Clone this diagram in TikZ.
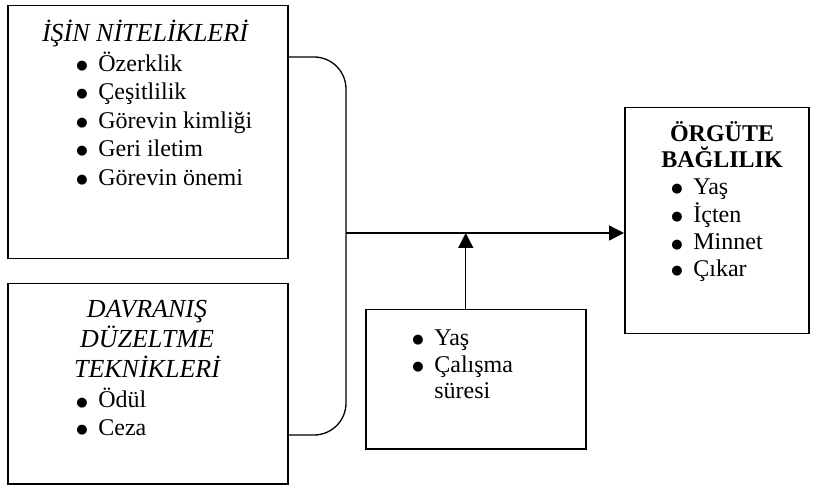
\documentclass[tikz,border=0pt]{standalone}
\usepackage{fontspec}
\setmainfont{Liberation Serif}
\newfontfamily\simge{DejaVu Sans}
\usetikzlibrary{positioning}
\usetikzlibrary{arrows.meta}

\begin{document}
\begin{tikzpicture}[x=0.5pt, y=-0.5pt,
  kutu/.style={draw, line width=0.75pt, anchor=north west, inner sep=0pt},
  satir/.style={font=\fontsize{12}{13.8}\selectfont, inner sep=0pt, anchor=base west,
    text height=8.5pt, text depth=2.5pt},
  baslik/.style={font=\fontsize{13}{14.5}\selectfont\itshape, inner sep=0pt, anchor=base,
    text height=9pt, text depth=2.5pt},
  baglac/.style={line width=0.65pt},
  ok/.style={line width=0.65pt, -{Triangle[length=7.5pt, width=7.5pt]}}]

\newcommand{\madde}{\makebox[11pt][l]{\raisebox{1pt}{\simge\fontsize{6.5}{7}\selectfont ●}}}  % madde imi

\useasboundingbox (0,0) rectangle (814,486);

% kutular
\node[kutu, minimum width=140pt, minimum height=126.5pt] (isin) at (7,5) {};
\node[kutu, minimum width=140pt, minimum height=100pt] (davranis) at (7,283) {};
\node[kutu, minimum width=110pt, minimum height=69.5pt] (orta) at (365,309) {};
\node[kutu, minimum width=92pt, minimum height=113pt] (orgut) at (624,107) {};

% İşin nitelikleri
\node[baslik] (isinbas) at (145,42) {İŞİN NİTELİKLERİ};
\node[satir] (i1) at (76,71.7) {\madde Özerklik};
\node[satir] (i2) at (76,100) {\madde Çeşitlilik};
\node[satir] (i3) at (76,128.5) {\madde Görevin kimliği};
\node[satir] (i4) at (76,157) {\madde Geri iletim};
\node[satir] (i5) at (76,185.5) {\madde Görevin önemi};

% Davranış düzeltme teknikleri
\node[baslik] (dbas1) at (147,318) {DAVRANIŞ};
\node[baslik] (dbas2) at (147,348) {DÜZELTME};
\node[baslik] (dbas3) at (147,378) {TEKNİKLERİ};
\node[satir] (d1) at (76,408) {\madde Ödül};
\node[satir] (d2) at (76,435) {\madde Ceza};

% Orta kutu
\node[satir] (o1) at (412,345) {\madde Yaş};
\node[satir] (o2) at (412,372) {\madde Çalışma};
\node[satir] (o3) at (412,398) {\hspace*{11pt}süresi};

% Örgüte bağlılık
\node[baslik, font=\fontsize{12}{13.8}\selectfont\bfseries, text height=8.5pt] (obas1) at (722,142) {ÖRGÜTE};
\node[baslik, font=\fontsize{12}{13.8}\selectfont\bfseries, text height=8.5pt] (obas2) at (722,168) {BAĞLILIK};
\node[satir] (b1) at (671,195) {\madde Yaş};
\node[satir] (b2) at (671,222.5) {\madde İçten};
\node[satir] (b3) at (671,250) {\madde Minnet};
\node[satir] (b4) at (671,277) {\madde Çıkar};

% bağlantılar
\coordinate (kavsak) at (346,233);
\coordinate (okdip) at ([xshift=-5pt]orta.north);

\draw[baglac, rounded corners=16pt] ([yshift=-26pt]isin.north east) -- (346,57)
  -- (346,435) -- ([yshift=-76pt]davranis.north east);
\draw[ok] (kavsak) -- (kavsak -| orgut.west);
\draw[ok] (okdip) -- (okdip |- kavsak);

\end{tikzpicture}
\end{document}
